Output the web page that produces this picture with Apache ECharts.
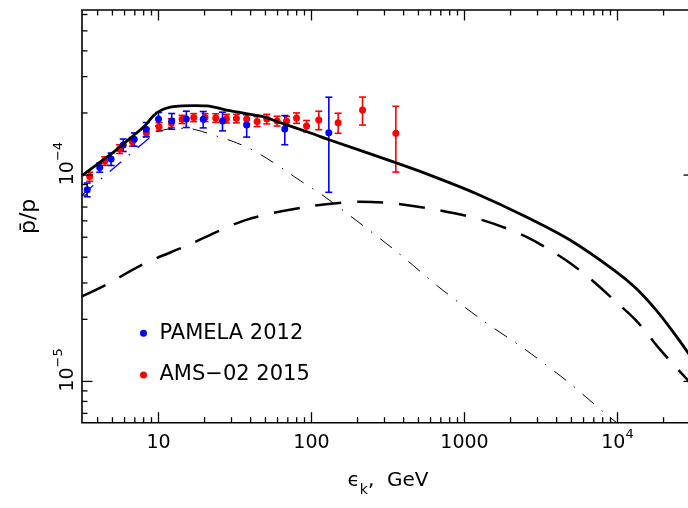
<!DOCTYPE html>
<html><head><meta charset="utf-8">
<script src="https://cdn.jsdelivr.net/npm/echarts@6/dist/echarts.min.js"></script>
<style>html,body{margin:0;padding:0;background:#fff}#c{width:688px;height:508px}</style>
</head><body><div id="c"></div>
<script>
// ---- data (ratio values in units of 1e-4) ----
const SCALE = 1e-4;
const pamelaE   = [3.42,4.13,4.90,5.88,6.94,8.31,10.0,12.2,15.2,19.6,26.2,37.7,66.9,129.8];
const pamelaR   = [0.850,1.087,1.196,1.398,1.490,1.667,1.870,1.828,1.870,1.863,1.828,1.748,1.673,1.605];
const pamelaErr = [0.065,0.055,0.083,0.097,0.11,0.13,0.14,0.16,0.17,0.17,0.19,0.22,0.27,0.78];

const amsE   = [3.55,4.45,5.57,6.75,8.33,10.08,12.14,14.25,16.99,20.14,23.66,27.8,32.3,37.7,44.1,51.0,59.6,68.6,79.8,92.8,111.6,149.3,215.6,355.9];
const amsR   = [0.983,1.170,1.337,1.451,1.605,1.716,1.788,1.863,1.901,1.901,1.891,1.880,1.880,1.870,1.818,1.870,1.828,1.828,1.891,1.729,1.849,1.794,2.068,1.594];
const amsErr = [0.05,0.055,0.065,0.07,0.075,0.08,0.085,0.085,0.085,0.085,0.09,0.09,0.09,0.09,0.1,0.1,0.1,0.1,0.11,0.11,0.19,0.2,0.32,0.56];

const totalE = [3.16,4.13,5.18,6.48,8.16,9.26,10.49,12.2,14.2,17.25,20.67,29.2,48.2,62.0,99.7,131.7,350.6,594,1187,2540,4920,9530,13210,18400,24130,28910,31620];
const totalR = [0.994,1.152,1.307,1.502,1.735,1.941,2.068,2.138,2.163,2.17,2.163,2.052,1.919,1.798,1.594,1.479,1.152,1.0,0.815,0.627,0.4836,0.3457,0.2828,0.2163,0.1663,0.1378,0.1251];

const dashE = [3.16,4.47,8.10,14.68,37.0,93.2,206.4,350.6,678,1313,2540,4605,6812,9530,13210,18400,24030,28910,31620];
const dashR = [0.2586,0.2924,0.3727,0.4487,0.6046,0.7016,0.7419,0.7288,0.6761,0.6046,0.5017,0.3867,0.3093,0.2473,0.1977,0.1467,0.1173,0.1011,0.091];

const ddE = [9.7,12.2,15.07,17.78,24.4,30.1,39.5,51.0,66.9,81.4,105.1,122.2,350.6,678,1313,2540,4920,8346,14030];
const ddR = [1.62,1.681,1.685,1.654,1.538,1.462,1.345,1.205,1.057,0.956,0.846,0.785,0.4325,0.287,0.1977,0.1414,0.0974,0.0697,0.0516];

const blueDdE = [3.16,9.7];
const blueDdR = [0.80,1.62];

// axis ranges and tick labels
const xMin = Math.pow(10,0.5), xMax = Math.pow(10,4.5);
const yMin = Math.pow(10,-5.2), yMax = Math.pow(10,-3.2);
const xLabelExp  = [1,2,3,4];
const xLabelBase = ['10','100','1000','10'];
const xLabelSup  = ['','','','4'];
const yLabelExp  = [-5,-4];
const yLabelBase = ['10','10'];
const yLabelSup  = ['\u22125','\u22124'];
const tickMantissas = [1,2,3,4,5,6,7,8,9];
const xDecades = [0,1,2,3,4];
const yDecades = [-6,-5,-4,-3];

const FONT = 'DejaVu Sans';
const pair = (xs, ys) => xs.map((x,i)=>[x, ys[i]*SCALE]);
const errData = (xs, ys, es) => xs.map((x,i)=>[x,(ys[i]-es[i])*SCALE,(ys[i]+es[i])*SCALE]);

const xTicks = [], yTicks = [];
xDecades.forEach(d => tickMantissas.forEach(m => { const v = m*Math.pow(10,d); if (v>=xMin && v<=xMax) xTicks.push([v, m===1?1:0, yMin]); }));
yDecades.forEach(d => tickMantissas.forEach(m => { const v = m*Math.pow(10,d); if (v>=yMin && v<=yMax) yTicks.push([xMin, v, m===1?1:0]); }));

const MAJ = 10.5, MIN = 5.5, TW = 1.3;
function labelFor(v, exps, base, sup) {
  const l = Math.log10(v), n = Math.round(l);
  if (Math.abs(l-n) > 1e-6) return '';
  const i = exps.indexOf(n);
  if (i < 0) return '';
  return '{b|' + base[i] + '}' + (sup[i] ? '{s|' + sup[i] + '}' : '');
}
const richLab = {
  b: {fontFamily: FONT, fontSize: 19, lineHeight: 20, padding: [6,0,0,0], verticalAlign: 'top', color: '#000'},
  s: {fontFamily: FONT, fontSize: 13, lineHeight: 13, verticalAlign: 'top', color: '#000'}
};

const errRender = color => (params, api) => {
  const x = api.value(0);
  const lo = api.coord([x, api.value(1)]);
  const hi = api.coord([x, api.value(2)]);
  const w = 3.5, st = {stroke: color, lineWidth: 1.6};
  return {type:'group', children:[
    {type:'line', shape:{x1:lo[0],y1:lo[1],x2:hi[0],y2:hi[1]}, style:st},
    {type:'line', shape:{x1:lo[0]-w,y1:lo[1],x2:lo[0]+w,y2:lo[1]}, style:st},
    {type:'line', shape:{x1:hi[0]-w,y1:hi[1],x2:hi[0]+w,y2:hi[1]}, style:st}
  ]};
};

const chart = echarts.init(document.getElementById('c'), null, {renderer:'canvas', width:688, height:508});
chart.setOption({
  animation: false,
  backgroundColor: '#fff',
  textStyle: {fontFamily: FONT},
  grid: {left: 82, top: 10, width: 612, height: 412.7, show: true, borderColor: '#000', borderWidth: 1.6,
         backgroundColor: 'transparent', containLabel: false, outerBoundsMode: 'none'},
  legend: {
    data: ['PAMELA 2012', 'AMS\u221202 2015'], orient: 'vertical', left: 135, top: 317.8,
    itemWidth: 22, itemHeight: 7, itemGap: 20.7, icon: 'circle', selectedMode: false,
    textStyle: {fontFamily: FONT, fontSize: 21, color: '#000'}
  },
  xAxis: {
    type: 'log', logBase: 10, min: xMin, max: xMax,
    axisLine: {show: false}, axisTick: {show: false}, splitLine: {show: false}, minorTick: {show: false},
    axisLabel: {margin: 5, formatter: v => labelFor(v, xLabelExp, xLabelBase, xLabelSup), rich: richLab,
                showMinLabel: true, showMaxLabel: true, hideOverlap: false},
    name: '{a|\u03F5}{k|k}{a|,  GeV}', nameLocation: 'middle', nameGap: 48,
    nameTextStyle: {rich: {
      a: {fontFamily: FONT, fontSize: 20, lineHeight: 22, verticalAlign: 'top', color: '#000'},
      k: {fontFamily: FONT, fontSize: 14, lineHeight: 14, padding: [13,0,0,0], verticalAlign: 'top', color: '#000'}
    }}
  },
  yAxis: {
    type: 'log', logBase: 10, min: yMin, max: yMax,
    axisLine: {show: false}, axisTick: {show: false}, splitLine: {show: false}, minorTick: {show: false},
    axisLabel: {rotate: 90, margin: 9.5, padding: [0,0,0,23], formatter: v => labelFor(v, yLabelExp, yLabelBase, yLabelSup), rich: richLab,
                showMinLabel: true, showMaxLabel: true, hideOverlap: false},
    name: 'p\u0304/p', nameLocation: 'middle', nameGap: 42,
    nameTextStyle: {fontFamily: FONT, fontSize: 22, color: '#000'}
  },
  series: [
    {type: 'custom', name: 'xticks', silent: true, data: xTicks, encode: {x: 0, y: 2}, z: 5,
     renderItem: (params, api) => {
       const cs = params.coordSys; const px = api.coord([api.value(0), yMin])[0];
       const len = api.value(1) ? MAJ : MIN; const st = {stroke: '#000', lineWidth: TW};
       return {type: 'group', children: [
         {type: 'line', shape: {x1: px, y1: cs.y + cs.height, x2: px, y2: cs.y + cs.height - len}, style: st},
         {type: 'line', shape: {x1: px, y1: cs.y, x2: px, y2: cs.y + len}, style: st}]};
     }},
    {type: 'custom', name: 'yticks', silent: true, data: yTicks, encode: {x: 0, y: 1}, z: 5,
     renderItem: (params, api) => {
       const cs = params.coordSys; const py = api.coord([xMin, api.value(1)])[1];
       const len = api.value(2) ? MAJ : MIN; const st = {stroke: '#000', lineWidth: TW};
       return {type: 'group', children: [
         {type: 'line', shape: {x1: cs.x, y1: py, x2: cs.x + len, y2: py}, style: st},
         {type: 'line', shape: {x1: cs.x + cs.width, y1: py, x2: cs.x + cs.width - len, y2: py}, style: st}]};
     }},
    {type: 'line', name: 'total', data: pair(totalE, totalR), showSymbol: false, smooth: 0.3, silent: true,
     lineStyle: {color: '#000', width: 2.8}},
    {type: 'line', name: 'dashed', data: pair(dashE, dashR), showSymbol: false, smooth: 0.3, silent: true,
     lineStyle: {color: '#000', width: 2.5, type: [26, 16]}},
    {type: 'line', name: 'dashdot', data: pair(ddE, ddR), showSymbol: false, smooth: 0.3, silent: true,
     lineStyle: {color: '#000', width: 1, type: [15, 10, 1.5, 10]}},
    {type: 'line', name: 'dashdotBlue', data: pair(blueDdE, blueDdR), showSymbol: false, silent: true,
     lineStyle: {color: '#0000ff', width: 1.3, type: [15, 10, 1.5, 10]}},
    {type: 'custom', name: 'amsErr', silent: true, data: errData(amsE, amsR, amsErr), encode: {x: 0, y: [1, 2]},
     renderItem: errRender('#ff0000')},
    {type: 'scatter', name: 'AMS\u221202 2015', data: pair(amsE, amsR), symbol: 'circle', symbolSize: 7,
     itemStyle: {color: '#ff0000', opacity: 1}, silent: true},
    {type: 'custom', name: 'pamelaErr', silent: true, data: errData(pamelaE, pamelaR, pamelaErr), encode: {x: 0, y: [1, 2]},
     renderItem: errRender('#0000ff')},
    {type: 'scatter', name: 'PAMELA 2012', data: pair(pamelaE, pamelaR), symbol: 'circle', symbolSize: 7,
     itemStyle: {color: '#0000ff', opacity: 1}, silent: true}
  ]
});
</script></body></html>
